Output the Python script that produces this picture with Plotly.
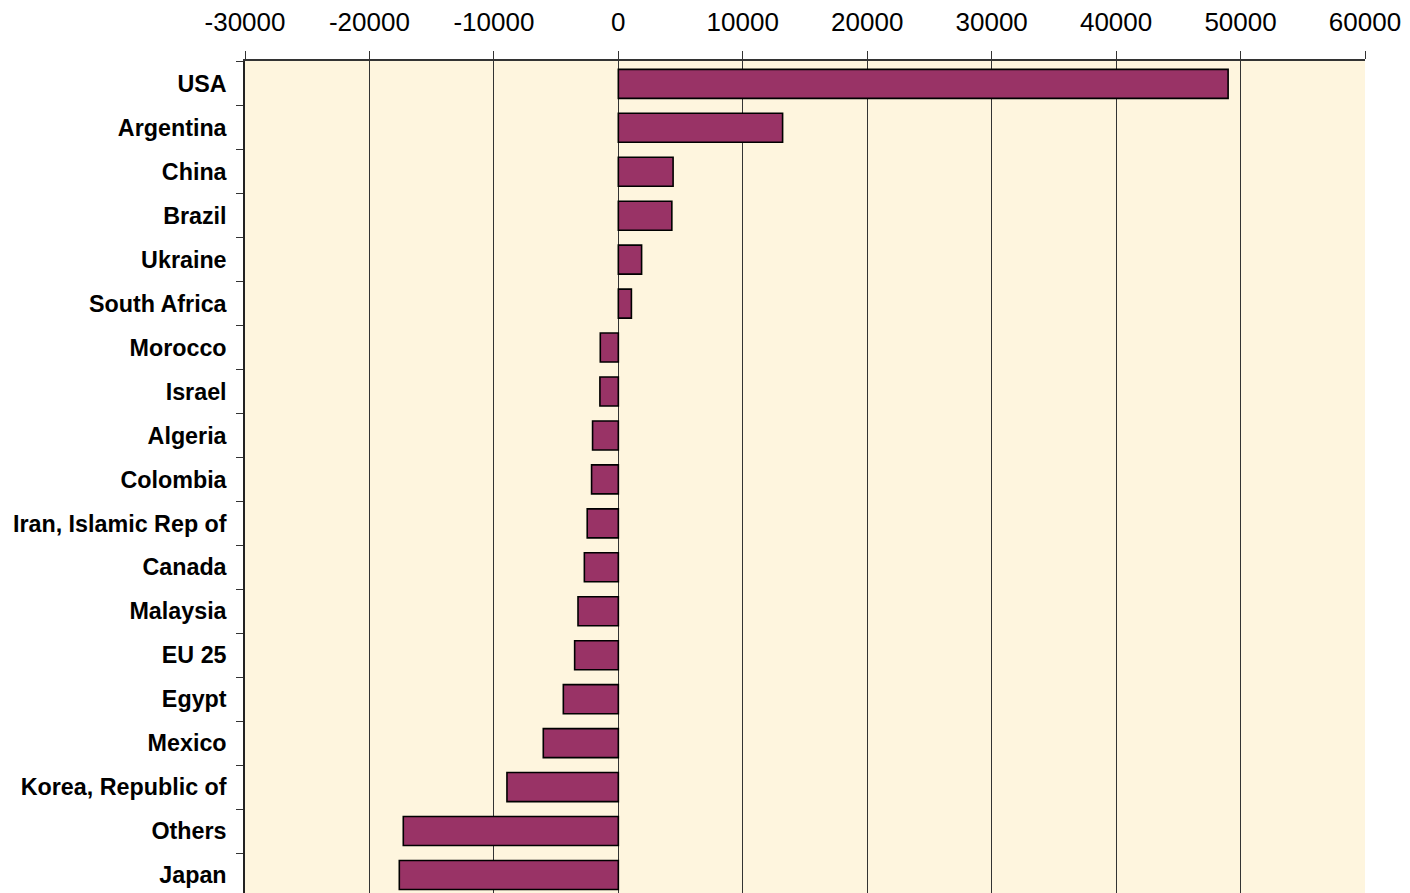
import plotly.graph_objects as go

countries = ["USA", "Argentina", "China", "Brazil", "Ukraine", "South Africa",
             "Morocco", "Israel", "Algeria", "Colombia", "Iran, Islamic Rep of",
             "Canada", "Malaysia", "EU 25", "Egypt", "Mexico",
             "Korea, Republic of", "Others", "Japan"]
values = [49000, 13200, 4400, 4300, 1870, 1050,
          -1450, -1480, -2070, -2150, -2500,
          -2730, -3240, -3510, -4420, -6030,
          -8950, -17280, -17600]
x_ticks = [-30000, -20000, -10000, 0, 10000, 20000, 30000, 40000, 50000, 60000]

FONT = "Liberation Sans, Arial, sans-serif"

fig = go.Figure()
fig.add_trace(go.Bar(
    y=countries, x=values, orientation="h",
    marker=dict(color="#993366", line=dict(color="#000000", width=1.6)),
    width=0.66,
))

fig.update_layout(
    width=1410, height=893,
    margin=dict(l=245, r=45, t=61, b=0),
    paper_bgcolor="white",
    plot_bgcolor="#FEF5DE",
    showlegend=False,
    font=dict(family=FONT, color="black"),
)
fig.update_xaxes(
    side="top", range=[-30000, 60000], automargin=False,
    tickvals=x_ticks, ticktext=[str(v) for v in x_ticks],
    tickfont=dict(size=26, family=FONT, color="black"),
    ticks="outside", ticklen=8, tickcolor="#333333", tickwidth=1,
    ticklabelstandoff=10,
    showgrid=True, gridcolor="#333333", gridwidth=1,
    showline=True, linecolor="#333333", linewidth=1.5,
    zeroline=False, fixedrange=True,
)
fig.update_yaxes(
    type="category", categoryorder="array", categoryarray=countries,
    range=[18.41, -0.52], automargin=False,
    tickfont=dict(size=23.3, family=FONT, color="black", weight="bold"),
    ticks="outside", tickson="boundaries", ticklen=7, tickcolor="#333333", tickwidth=1,
    ticklabelstandoff=12,
    showline=True, linecolor="#222222", linewidth=1.5,
    showgrid=False, zeroline=False, fixedrange=True,
)

fig.write_html("out.html",
               config={"displayModeBar": False},
               post_script="document.body.style.margin='0';document.body.style.overflow='hidden';")
